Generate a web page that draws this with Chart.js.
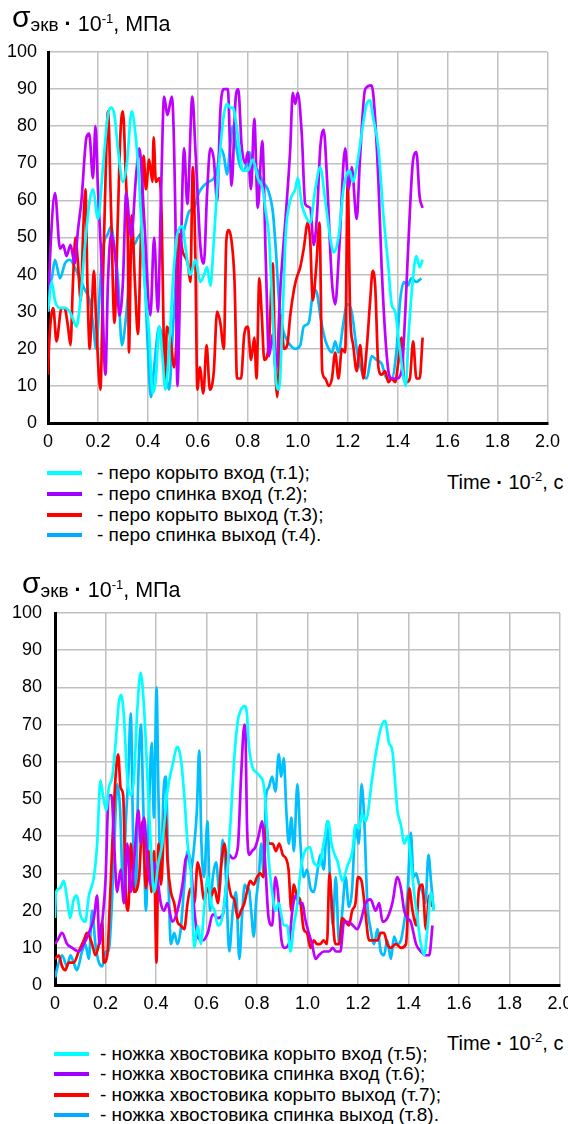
<!DOCTYPE html>
<html><head><meta charset="utf-8">
<script src="https://cdn.jsdelivr.net/npm/chart.js@4.4.1/dist/chart.umd.min.js"></script>
<style>
html,body{margin:0;padding:0;background:#fff;}
body{width:568px;height:1124px;overflow:hidden;position:relative;font-family:"Liberation Sans",Arial,sans-serif;color:#000;}
canvas{position:absolute;left:0;}
.title{position:absolute;white-space:nowrap;line-height:20px;font-size:21.5px;}
.title .s{font-size:30px;position:relative;top:-4px;}
.title .sub{font-size:19px;}
.title .sup{font-size:13px;position:relative;top:-8px;}
.leg{position:absolute;white-space:nowrap;font-size:19px;line-height:20px;height:20px;}
.leg .sw{position:absolute;top:8px;height:4px;}
.leg .tx{position:absolute;top:0;}
.time{position:absolute;font-size:20px;white-space:nowrap;line-height:20px;}
.time .sup{font-size:13px;position:relative;top:-8px;}
b.dot{font-weight:bold;}
</style></head>
<body>
<canvas id="c1" width="568" height="460" style="top:0;width:568px;height:460px"></canvas>
<canvas id="c2" width="600" height="460" style="top:560px;width:600px;height:460px"></canvas>

<div class="title" style="left:12px;top:11px"><span class="s">σ</span><span class="sub">экв</span> <b class="dot">·</b> 10<span class="sup">-1</span>, МПа</div>
<div class="title" style="left:22px;top:577px"><span class="s">σ</span><span class="sub">экв</span> <b class="dot">·</b> 10<span class="sup">-1</span>, МПа</div>

<div class="time" style="left:447px;top:472px">Time <b class="dot">·</b> 10<span class="sup">-2</span>, с</div>
<div class="time" style="left:447px;top:1033px">Time <b class="dot">·</b> 10<span class="sup">-2</span>, с</div>

<div id="leg1"></div>
<div id="leg2"></div>

<script>
// ---------- data ----------
const xTickValues = [0,0.2,0.4,0.6,0.8,1.0,1.2,1.4,1.6,1.8,2.0];
const xTickLabels = ['0','0.2','0.4','0.6','0.8','1.0','1.2','1.4','1.6','1.8','2.0'];
const yTickValues = [0,10,20,30,40,50,60,70,80,90,100];

const names1 = ['- перо корыто вход (т.1);','- перо спинка вход (т.2);','- перо корыто выход (т.3);','- перо спинка выход (т.4).'];
const names2 = ['- ножка хвостовика корыто вход (т.5);','- ножка хвостовика спинка вход (т.6);','- ножка хвостовика корыто выход (т.7);','- ножка хвостовика спинка выход (т.8).'];
const colors = ['#00FFFF','#C000FF','#FF0000','#00BFFF'];
const legendColors = ['#00FFFF','#9F00FF','#FF0000','#00AAFF'];

// [time, value] pairs, top chart
const t1 = [[0,30],[0.015,38],[0.028,33],[0.048,31],[0.068,31],[0.087,30],[0.1,28],[0.114,26],[0.128,32],[0.147,47],[0.167,60],[0.18,63],[0.2,55],[0.22,69],[0.24,83],[0.253,85],[0.266,83],[0.28,74],[0.3,65],[0.316,70],[0.335,84],[0.35,78],[0.365,65],[0.386,38],[0.405,24],[0.419,8],[0.432,12],[0.445,26],[0.458,18],[0.47,9],[0.485,20],[0.5,38],[0.518,51],[0.538,53],[0.551,47],[0.57,40],[0.59,44],[0.61,38],[0.625,40],[0.637,42],[0.65,37],[0.663,48],[0.677,63],[0.69,74],[0.704,83],[0.717,86],[0.73,85],[0.74,85],[0.753,81],[0.766,74],[0.78,68],[0.8,68],[0.82,71],[0.84,66],[0.86,63],[0.872,57],[0.885,50],[0.9,29],[0.912,12],[0.925,9],[0.94,30],[0.952,51],[0.97,60],[0.99,63],[1.0,66],[1.016,59],[1.03,56],[1.05,54],[1.07,63],[1.09,69],[1.11,60],[1.13,50],[1.143,46],[1.163,50],[1.183,63],[1.196,67],[1.208,68],[1.22,65],[1.236,69],[1.256,78],[1.276,86],[1.29,87],[1.3,83],[1.323,74],[1.343,56],[1.363,42],[1.376,32],[1.39,30],[1.405,22],[1.42,14],[1.432,10],[1.445,25],[1.46,38],[1.475,45],[1.488,42],[1.5,44]];
const t2 = [[0,30],[0.012,50],[0.028,62],[0.048,47],[0.061,48],[0.074,45],[0.09,48],[0.107,43],[0.12,52],[0.134,60],[0.154,77],[0.165,78],[0.18,66],[0.19,80],[0.2,63],[0.213,45],[0.23,13],[0.24,38],[0.253,51],[0.273,42],[0.286,29],[0.3,38],[0.313,62],[0.333,50],[0.353,67],[0.366,74],[0.385,55],[0.41,29],[0.425,50],[0.44,30],[0.452,60],[0.465,88],[0.478,83],[0.496,88],[0.51,56],[0.518,10],[0.53,40],[0.545,74],[0.558,59],[0.578,88],[0.59,74],[0.611,47],[0.624,43],[0.637,62],[0.65,74],[0.664,71],[0.677,60],[0.69,84],[0.704,90],[0.72,90],[0.735,64],[0.752,88],[0.762,90],[0.775,75],[0.79,70],[0.8,73],[0.813,63],[0.826,82],[0.84,58],[0.858,76],[0.872,44],[0.885,18],[0.9,24],[0.912,14],[0.932,38],[0.952,56],[0.97,74],[0.98,89],[0.99,86],[1.0,89],[1.016,78],[1.03,59],[1.05,58],[1.064,48],[1.077,56],[1.09,74],[1.104,79],[1.117,66],[1.137,38],[1.15,32],[1.166,47],[1.19,74],[1.204,63],[1.216,69],[1.236,55],[1.249,71],[1.27,90],[1.296,91],[1.309,83],[1.323,65],[1.336,42],[1.35,24],[1.363,14],[1.376,12],[1.396,12],[1.416,14],[1.43,29],[1.442,47],[1.462,71],[1.475,73],[1.488,61],[1.5,58]];
const t3 = [[0,13],[0.005,22],[0.021,31],[0.034,22],[0.054,31],[0.066,31],[0.08,26],[0.09,21],[0.1,38],[0.11,50],[0.12,43],[0.131,33],[0.14,50],[0.15,63],[0.158,37],[0.167,20],[0.176,32],[0.184,41],[0.193,27],[0.21,9],[0.22,38],[0.23,65],[0.24,84],[0.253,56],[0.266,27],[0.28,56],[0.29,78],[0.3,84],[0.31,69],[0.32,47],[0.324,19],[0.335,56],[0.348,38],[0.36,24],[0.372,50],[0.383,72],[0.392,63],[0.405,71],[0.418,65],[0.423,77],[0.432,65],[0.445,66],[0.455,56],[0.463,24],[0.47,12],[0.476,26],[0.49,23],[0.505,15],[0.518,29],[0.525,51],[0.54,46],[0.56,43],[0.57,38],[0.58,69],[0.59,45],[0.598,9],[0.608,15],[0.622,8],[0.635,21],[0.648,9],[0.664,14],[0.677,30],[0.69,27],[0.704,20],[0.714,49],[0.724,52],[0.735,49],[0.747,38],[0.757,12],[0.773,12],[0.786,24],[0.8,26],[0.813,17],[0.826,23],[0.835,12],[0.846,39],[0.856,29],[0.866,17],[0.885,22],[0.9,43],[0.908,20],[0.918,7],[0.932,29],[0.945,20],[0.958,21],[0.97,29],[0.985,36],[0.995,39],[1.01,42],[1.024,47],[1.04,54],[1.05,49],[1.06,33],[1.074,42],[1.087,54],[1.098,14],[1.11,12],[1.124,10],[1.137,12],[1.15,19],[1.163,12],[1.177,20],[1.19,19],[1.2,65],[1.21,29],[1.222,21],[1.236,14],[1.25,21],[1.263,12],[1.276,20],[1.29,33],[1.3,41],[1.31,37],[1.323,15],[1.336,13],[1.35,14],[1.363,11],[1.376,12],[1.39,11],[1.402,16],[1.416,23],[1.425,12],[1.435,11],[1.449,12],[1.462,22],[1.475,12],[1.488,12],[1.5,23]];
const t4 = [[0,36],[0.015,39],[0.028,44],[0.048,39],[0.068,43],[0.087,44],[0.107,42],[0.127,39],[0.147,36],[0.167,33],[0.18,27],[0.193,20],[0.207,35],[0.22,47],[0.24,51],[0.253,53],[0.266,47],[0.28,39],[0.296,21],[0.313,29],[0.333,45],[0.353,49],[0.372,51],[0.385,42],[0.4,20],[0.412,7],[0.425,15],[0.445,26],[0.46,22],[0.475,12],[0.485,9],[0.5,25],[0.512,38],[0.525,48],[0.545,52],[0.565,57],[0.585,58],[0.604,62],[0.624,64],[0.644,65],[0.664,66],[0.677,68],[0.69,74],[0.704,72],[0.717,67],[0.73,75],[0.74,80],[0.753,75],[0.766,70],[0.786,68],[0.806,73],[0.82,70],[0.84,68],[0.86,65],[0.88,63],[0.9,57],[0.912,47],[0.925,33],[0.938,26],[0.952,23],[0.97,21],[0.99,20],[1.01,21],[1.024,26],[1.044,27],[1.064,36],[1.077,35],[1.09,29],[1.104,24],[1.117,21],[1.137,19],[1.15,22],[1.163,19],[1.183,27],[1.196,32],[1.216,30],[1.236,20],[1.256,14],[1.276,12],[1.296,18],[1.316,17],[1.336,16],[1.356,12],[1.376,12],[1.396,20],[1.41,33],[1.425,38],[1.44,37],[1.455,39],[1.475,38],[1.495,39]];

// bottom chart
const t5 = [[0,18],[0.004,25],[0.02,26],[0.035,28],[0.048,23],[0.06,18],[0.074,23],[0.087,24],[0.1,19],[0.12,17],[0.134,24],[0.154,29],[0.167,38],[0.18,55],[0.19,51],[0.203,47],[0.213,53],[0.227,56],[0.24,65],[0.253,76],[0.262,78],[0.273,72],[0.286,56],[0.3,51],[0.313,56],[0.326,74],[0.339,84],[0.353,74],[0.366,56],[0.379,38],[0.392,25],[0.41,33],[0.425,38],[0.445,52],[0.465,59],[0.485,64],[0.498,61],[0.512,51],[0.525,38],[0.538,31],[0.552,10],[0.565,16],[0.578,11],[0.59,20],[0.605,29],[0.618,22],[0.632,20],[0.645,16],[0.658,17],[0.671,22],[0.684,32],[0.698,47],[0.71,61],[0.724,71],[0.737,74],[0.75,75],[0.76,73],[0.767,65],[0.78,59],[0.8,57],[0.813,56],[0.826,54],[0.836,47],[0.846,34],[0.86,25],[0.873,20],[0.886,22],[0.906,16],[0.92,16],[0.932,9],[0.946,16],[0.96,22],[0.973,31],[0.99,36],[1.01,37],[1.024,33],[1.045,32],[1.064,38],[1.082,44],[1.095,38],[1.108,35],[1.12,33],[1.138,28],[1.158,32],[1.178,36],[1.19,43],[1.204,42],[1.216,46],[1.23,44],[1.257,56],[1.27,62],[1.29,69],[1.307,71],[1.323,65],[1.336,63],[1.356,47],[1.37,43],[1.383,38],[1.396,40],[1.409,34],[1.422,25],[1.435,18],[1.449,11],[1.462,8],[1.475,15],[1.489,25],[1.5,20]];
const t6 = [[0,11],[0.01,12],[0.028,14],[0.048,11],[0.068,10],[0.094,9],[0.114,11],[0.134,14],[0.154,18],[0.167,24],[0.176,11],[0.19,19],[0.2,28],[0.213,51],[0.224,51],[0.234,38],[0.246,25],[0.26,31],[0.273,22],[0.286,38],[0.3,25],[0.313,33],[0.33,47],[0.34,38],[0.353,45],[0.366,33],[0.379,27],[0.392,33],[0.405,29],[0.419,22],[0.432,20],[0.445,22],[0.465,17],[0.485,20],[0.505,27],[0.518,34],[0.532,35],[0.552,20],[0.565,13],[0.585,12],[0.605,14],[0.625,19],[0.645,18],[0.665,19],[0.678,27],[0.69,35],[0.704,34],[0.724,37],[0.737,56],[0.75,70],[0.755,66],[0.76,44],[0.77,35],[0.78,36],[0.793,37],[0.806,40],[0.82,44],[0.833,32],[0.846,18],[0.86,16],[0.873,29],[0.883,25],[0.897,12],[0.91,10],[0.926,11],[0.94,20],[0.953,24],[0.966,22],[0.98,22],[0.99,18],[1.005,14],[1.018,11],[1.032,7],[1.045,8],[1.065,9],[1.085,9],[1.1,10],[1.113,9],[1.13,9],[1.145,17],[1.161,17],[1.18,16],[1.197,15],[1.21,17],[1.23,22],[1.25,23],[1.27,20],[1.284,22],[1.297,17],[1.316,18],[1.336,22],[1.356,29],[1.37,26],[1.383,20],[1.396,18],[1.409,17],[1.43,11],[1.449,9],[1.469,8],[1.482,8],[1.495,16]];
const t7 = [[0,7],[0.015,8],[0.028,5],[0.041,4],[0.054,6],[0.074,6],[0.094,9],[0.114,12],[0.127,14],[0.147,11],[0.16,8],[0.174,11],[0.187,17],[0.193,6],[0.207,8],[0.216,20],[0.227,38],[0.24,56],[0.25,62],[0.26,53],[0.27,51],[0.28,25],[0.29,20],[0.3,38],[0.313,25],[0.333,29],[0.346,44],[0.36,26],[0.372,36],[0.382,25],[0.392,36],[0.402,6],[0.41,38],[0.42,27],[0.436,47],[0.446,33],[0.459,25],[0.472,22],[0.485,17],[0.498,16],[0.512,15],[0.525,22],[0.538,26],[0.552,22],[0.565,33],[0.578,29],[0.59,23],[0.605,26],[0.618,24],[0.632,26],[0.645,22],[0.658,32],[0.671,38],[0.684,29],[0.698,24],[0.71,23],[0.724,18],[0.737,20],[0.75,22],[0.76,25],[0.773,28],[0.787,27],[0.8,29],[0.813,30],[0.826,29],[0.836,43],[0.846,38],[0.862,38],[0.875,36],[0.888,38],[0.902,35],[0.915,34],[0.925,31],[0.936,20],[0.946,27],[0.958,24],[0.97,23],[0.985,15],[0.998,14],[1.012,10],[1.025,12],[1.038,11],[1.05,11],[1.064,12],[1.077,11],[1.087,30],[1.098,20],[1.11,11],[1.125,11],[1.138,18],[1.151,17],[1.164,16],[1.177,20],[1.19,22],[1.2,29],[1.214,28],[1.227,21],[1.244,12],[1.26,12],[1.277,12],[1.29,14],[1.303,14],[1.316,11],[1.33,10],[1.35,11],[1.37,10],[1.39,11],[1.403,26],[1.416,20],[1.43,16],[1.442,26],[1.455,27],[1.469,15],[1.482,24],[1.495,21]];
const t8 = [[0,2],[0.015,6],[0.028,8],[0.048,5],[0.061,8],[0.074,6],[0.087,4],[0.107,9],[0.12,11],[0.134,7],[0.147,20],[0.16,11],[0.174,6],[0.187,5],[0.2,9],[0.212,9],[0.224,20],[0.235,38],[0.247,54],[0.258,47],[0.27,25],[0.28,43],[0.29,56],[0.3,73],[0.31,38],[0.32,25],[0.33,56],[0.34,70],[0.35,47],[0.36,20],[0.372,47],[0.383,65],[0.392,45],[0.402,80],[0.41,50],[0.419,29],[0.43,52],[0.439,56],[0.449,29],[0.459,11],[0.472,14],[0.485,11],[0.498,15],[0.512,27],[0.525,36],[0.538,31],[0.552,38],[0.562,47],[0.571,63],[0.58,38],[0.59,29],[0.604,44],[0.614,20],[0.625,29],[0.638,33],[0.651,25],[0.664,39],[0.677,29],[0.69,9],[0.704,20],[0.717,25],[0.73,7],[0.742,20],[0.752,27],[0.76,26],[0.767,26],[0.777,20],[0.787,13],[0.797,23],[0.807,29],[0.817,38],[0.826,30],[0.836,51],[0.846,53],[0.86,56],[0.873,52],[0.886,62],[0.896,56],[0.906,61],[0.916,47],[0.926,38],[0.936,45],[0.946,36],[0.96,54],[0.972,38],[0.985,29],[0.998,31],[1.012,26],[1.025,25],[1.038,30],[1.051,35],[1.064,31],[1.078,44],[1.09,27],[1.1,16],[1.112,29],[1.125,11],[1.138,20],[1.151,29],[1.164,21],[1.177,26],[1.19,43],[1.203,38],[1.214,54],[1.225,44],[1.237,22],[1.25,15],[1.264,11],[1.277,15],[1.29,9],[1.303,8],[1.316,12],[1.33,7],[1.343,13],[1.356,11],[1.37,12],[1.383,17],[1.396,24],[1.409,41],[1.42,29],[1.43,30],[1.442,27],[1.455,25],[1.467,22],[1.479,35],[1.489,28],[1.5,20]];

// ---------- charts ----------
const FONT = '"Liberation Sans", Arial, sans-serif';
function makeChart(id, series, names, cfg) {
  const datasets = series.map((s, i) => ({
    label: names[i],
    data: s.map(p => ({x: p[0], y: p[1]})),
    borderColor: colors[i],
    backgroundColor: colors[i],
    borderWidth: 2.7,
    pointRadius: 0,
    tension: 0.15,
    cubicInterpolationMode: 'monotone',
    fill: false
  }));
  return new Chart(document.getElementById(id), {
    type: 'line',
    data: {datasets},
    options: {
      responsive: false, animation: false, devicePixelRatio: 1,
      layout: {padding: cfg.padding},
      plugins: {legend: {display: false}, tooltip: {enabled: false}, title: {display: false}},
      scales: {
        x: {
          type: 'linear', min: 0, max: 2,
          afterBuildTicks: s => { s.ticks = xTickValues.map(v => ({value: v})); },
          afterFit: s => { s.height = 30; },
          grid: {color: '#c0c0c0', lineWidth: 1.5, drawTicks: false},
          border: {color: '#000', width: 3},
          ticks: {padding: cfg.xPad, color: '#000', font: {family: FONT, size: 18},
                  maxRotation: 0, autoSkip: false,
                  callback: v => xTickLabels[xTickValues.findIndex(t => Math.abs(t - v) < 1e-6)]}
        },
        y: {
          type: 'linear', min: 0, max: 100,
          afterBuildTicks: s => { s.ticks = yTickValues.map(v => ({value: v})); },
          afterFit: s => { s.width = cfg.yWidth; },
          grid: {color: '#c0c0c0', lineWidth: 1.5, drawTicks: false},
          border: {color: '#000', width: 3},
          ticks: {padding: cfg.yPad, color: '#000', font: {family: FONT, size: 18}}
        }
      }
    }
  });
}

makeChart('c1', [t1, t2, t3, t4], names1, {padding: {left: 0, top: 52, right: 16, bottom: 7}, yWidth: 48, yPad: 11, xPad: 8});
makeChart('c2', [t5, t6, t7, t8], names2, {padding: {left: 0, top: 53, right: 40, bottom: 5}, yWidth: 55, yPad: 13, xPad: 8});

// ---------- legends ----------
function buildLegend(elId, names, rows, swLeft, swW, txLeft) {
  const el = document.getElementById(elId);
  names.forEach((n, i) => {
    const row = document.createElement('div');
    row.className = 'leg';
    row.style.top = (rows[i] - 10) + 'px';
    row.style.left = '0px';
    const sw = document.createElement('span');
    sw.className = 'sw';
    sw.style.left = swLeft + 'px';
    sw.style.width = swW + 'px';
    sw.style.background = legendColors[i];
    const tx = document.createElement('span');
    tx.className = 'tx';
    tx.style.left = txLeft + 'px';
    tx.textContent = n;
    row.appendChild(sw); row.appendChild(tx);
    el.appendChild(row);
  });
}
buildLegend('leg1', names1, [473, 494, 515, 535], 47, 35, 97);
buildLegend('leg2', names2, [1054, 1074, 1095, 1115], 54, 35, 100);
</script>
</body></html>
